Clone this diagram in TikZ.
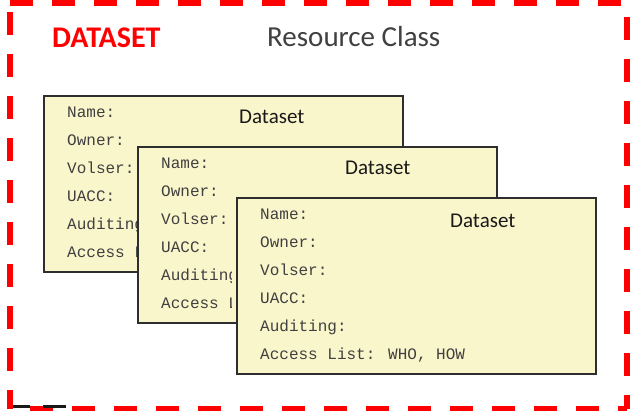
\documentclass[tikz,border=0pt]{standalone}
\usepackage{fontspec}
\setmainfont{Carlito}
\newfontfamily\monofont{Liberation Mono}
\definecolor{boxfill}{HTML}{FAF6CC}
\definecolor{boxline}{HTML}{2E2E2E}
\definecolor{txtgray}{HTML}{404040}
\definecolor{framered}{HTML}{FF0000}
\tikzset{
  frameline/.style={framered, line width=6pt, dash pattern=on 23pt off 19pt},
  blackmark/.style={black!90, line width=3pt},
  dsbox/.style={draw=boxline, line width=1.6pt, fill=boxfill},
  fieldtxt/.style={anchor=base west, inner sep=0pt, text=txtgray, font=\monofont\fontsize{16}{18}\selectfont},
  boxtitle/.style={anchor=base west, inner sep=0pt, text=black!90, font=\fontsize{21}{24}\selectfont},
}
\begin{document}
\begin{tikzpicture}[x=1pt,y=-1pt]
\useasboundingbox (0,0) rectangle (631,411);
% frame
\coordinate (tl) at (10,3.5);
\coordinate (tr) at (627,3.5);
\coordinate (lt) at (10,12);
\coordinate (lb) at (10,409);
\coordinate (rt) at (627,17);
\coordinate (rb) at (627,409);
\coordinate (bl) at (30,409);
\coordinate (br) at (627,409);
\draw[frameline] (tl) -- (tr);
\draw[frameline] (lt) -- (lb);
\draw[frameline] (rt) -- (rb);
\draw[frameline] (bl) -- (br);
\coordinate (k1a) at (13,406.5);
\coordinate (k1b) at (30,406.5);
\coordinate (k2a) at (43,406.5);
\coordinate (k2b) at (66,406.5);
\draw[blackmark] (k1a) -- (k1b);
\draw[blackmark] (k2a) -- (k2b);
% titles
\node[anchor=base west, inner sep=0pt, text=framered, font=\bfseries\fontsize{30}{32}\selectfont] (dstitle) at (52,48) {DATASET};
\node[anchor=base west, inner sep=0pt, text=txtgray, font=\fontsize{29}{32}\selectfont] (rctitle) at (267,47) {Resource Class};
% boxes (each box's text is clipped to the part of the box left visible)
\foreach \n/\x/\y/\tx/\ty in {1/43/95/239/124, 2/137/146/345/175, 3/236/197/450/228}{
  \node[dsbox, minimum width=359pt, minimum height=176pt, anchor=north west, inner sep=0pt] (box\n) at (\x,\y) {};
  \node[boxtitle] (box\n-title) at (\tx,\ty) {Dataset};
  \begin{scope}
    \ifnum\n<3
      \clip (\x,\y) -- (\x+359,\y) -- (\x+359,\y+51) -- (\x+94,\y+51) -- (\x+94,\y+176) -- (\x,\y+176) -- cycle;
    \fi
    \foreach \k/\t in {0/Name:, 1/Owner:, 2/Volser:, 3/UACC:, 4/Auditing:, 5/{Access List: WHO, HOW}}{
      \node[fieldtxt] (box\n-f\k) at (\x+24, \y+23+27.9*\k) {\t};
    }
  \end{scope}
}
\end{tikzpicture}
\end{document}
